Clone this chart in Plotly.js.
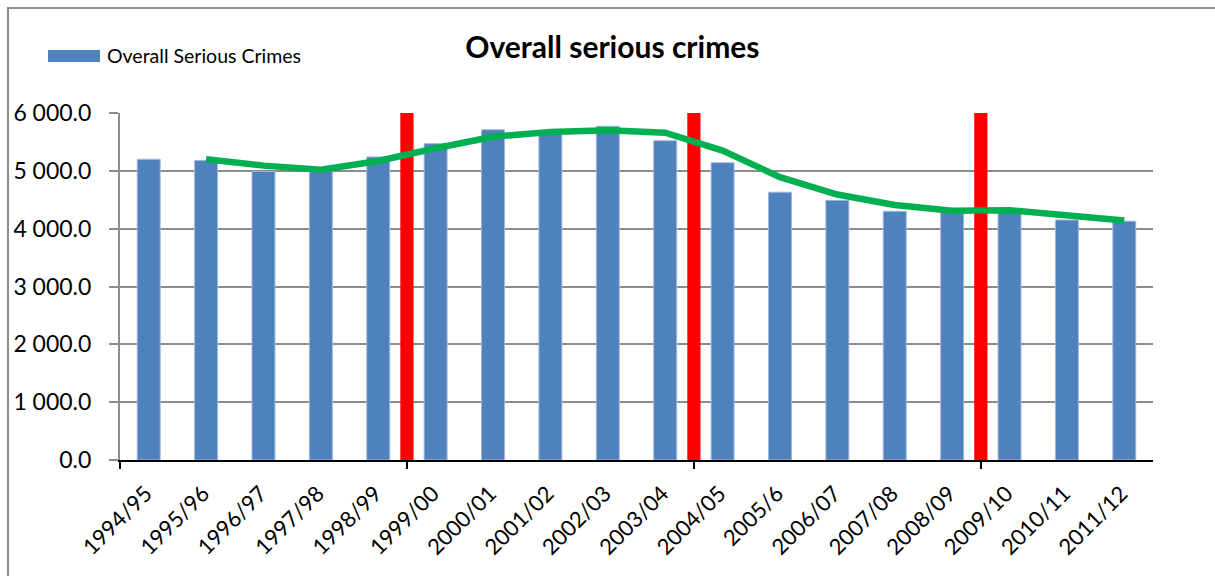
<!DOCTYPE html>
<html>
<head>
<meta charset="utf-8">
<script src="https://cdn.plot.ly/plotly-3.0.1.min.js"></script>
<style>
  html, body { margin: 0; padding: 0; background: #fff; }
  #wrap { position: relative; width: 1215px; height: 576px; overflow: hidden; }
  #chart { position: absolute; left: 0; top: 0; width: 1215px; height: 576px; }
  #frame { position: absolute; left: 7px; top: 7px; width: 1300px; height: 700px;
           border-left: 2px solid #8c8c8c; border-top: 2px solid #8c8c8c; pointer-events: none; }
</style>
</head>
<body>
<div id="wrap">
  <div id="chart"></div>
  <div id="frame"></div>
</div>
<script>
// ---- data ----
const years = ['1994/95','1995/96','1996/97','1997/98','1998/99','1999/00','2000/01','2001/02','2002/03',
               '2003/04','2004/05','2005/6','2006/07','2007/08','2008/09','2009/10','2010/11','2011/12'];
const seriousCrimes = [5200, 5180, 4990, 5020, 5240, 5470, 5710, 5660, 5770,
                       5520, 5140, 4630, 4490, 4300, 4290, 4290, 4150, 4130];
// smoothed trend (starts at 1995/96)
const trendYears = years.slice(1);
const trendValues = [5200, 5090, 5020, 5170, 5390, 5590, 5670, 5700, 5660,
                     5350, 4890, 4590, 4410, 4310, 4320, 4240, 4140];
// red marker bars drawn after these years (period breaks)
const breakAfter = ['1998/99', '2003/04', '2008/09'];
const breakHeight = [6000, 6000, 6000];
const yTicks = [0, 1000, 2000, 3000, 4000, 5000, 6000];
const yTickText = ['0.0', '1 000.0', '2 000.0', '3 000.0', '4 000.0', '5 000.0', '6 000.0'];
const legendLabel = 'Overall Serious Crimes';

// ---- positions via index on a linear axis ----
const idx = years.map((_, i) => i);
const trendIdx = trendYears.map(y => years.indexOf(y));
const breakIdx = breakAfter.map(y => years.indexOf(y) + 0.5);
const tickBoundaries = [-0.5].concat(breakIdx);

const FONT = 'Lato, "Open Sans", sans-serif';
const BLUE = '#4F81BD';

const traces = [
  {
    type: 'bar', x: idx, y: seriousCrimes, name: legendLabel,
    width: 0.40,
    marker: { color: BLUE, line: { color: '#9db7dc', width: 1 } },
    hoverinfo: 'skip'
  },
  {
    type: 'bar', x: breakIdx, y: breakHeight, name: 'break',
    width: 0.23,
    marker: { color: '#FF0000', line: { width: 0 } },
    hoverinfo: 'skip'
  },
  {
    type: 'scatter', mode: 'lines', x: trendIdx, y: trendValues,
    line: { color: '#00B050', width: 6.5, shape: 'linear' },
    hoverinfo: 'skip'
  },
  {
    // invisible trace carrying the boundary tick marks on xaxis2
    type: 'scatter', mode: 'markers', x: tickBoundaries, y: tickBoundaries.map(() => 0),
    xaxis: 'x2', marker: { opacity: 0 }, hoverinfo: 'skip'
  }
];

const layout = {
  width: 1215, height: 576,
  margin: { l: 120, r: 62, t: 113, b: 116, pad: 0 },
  paper_bgcolor: '#ffffff', plot_bgcolor: '#ffffff',
  barmode: 'overlay',
  showlegend: false,
  title: {
    text: '<b>Overall serious crimes</b>',
    font: { family: FONT, size: 30, color: '#000' },
    x: 0.504, xanchor: 'center', y: 0.917, yanchor: 'middle'
  },
  // legend key (wide swatch + label)
  shapes: [{
    type: 'rect', xref: 'paper', yref: 'paper',
    x0: -0.0697, x1: -0.0194, y0: 1.147, y1: 1.1816,
    fillcolor: BLUE, line: { width: 0 }
  }],
  annotations: [{
    text: legendLabel, xref: 'paper', yref: 'paper',
    x: -0.0145, y: 1.1643, xanchor: 'left', yanchor: 'middle', showarrow: false,
    font: { family: FONT, size: 19.5, color: '#000' }
  }],
  xaxis: {
    type: 'linear', range: [-0.5, 17.5], fixedrange: true,
    tickmode: 'array', tickvals: idx, ticktext: years, tickangle: -45,
    ticks: '', showgrid: false, zeroline: false,
    showline: true, linecolor: '#000', linewidth: 2,
    ticklabelstandoff: 10, ticklabelshift: -3,
    tickfont: { family: FONT, size: 22, color: '#000' }
  },
  xaxis2: {
    type: 'linear', range: [-0.5, 17.5], overlaying: 'x', side: 'bottom', matches: 'x',
    tickmode: 'array', tickvals: tickBoundaries, ticktext: tickBoundaries.map(() => ''),
    ticks: 'outside', ticklen: 8, tickwidth: 2, tickcolor: '#000',
    showgrid: false, zeroline: false, showline: false, showticklabels: false
  },
  yaxis: {
    range: [0, 6000], fixedrange: true,
    tickmode: 'array', tickvals: yTicks, ticktext: yTickText,
    ticks: 'outside', ticklen: 9, tickwidth: 2, tickcolor: '#8c8c8c',
    showgrid: true, gridcolor: '#8c8c8c', gridwidth: 2,
    zeroline: false, showline: true, linecolor: '#8c8c8c', linewidth: 2,
    ticklabelstandoff: 13,
    tickfont: { family: FONT, size: 23, color: '#000' }
  }
};

Plotly.newPlot('chart', traces, layout, { staticPlot: true, displayModeBar: false });
</script>
</body>
</html>
